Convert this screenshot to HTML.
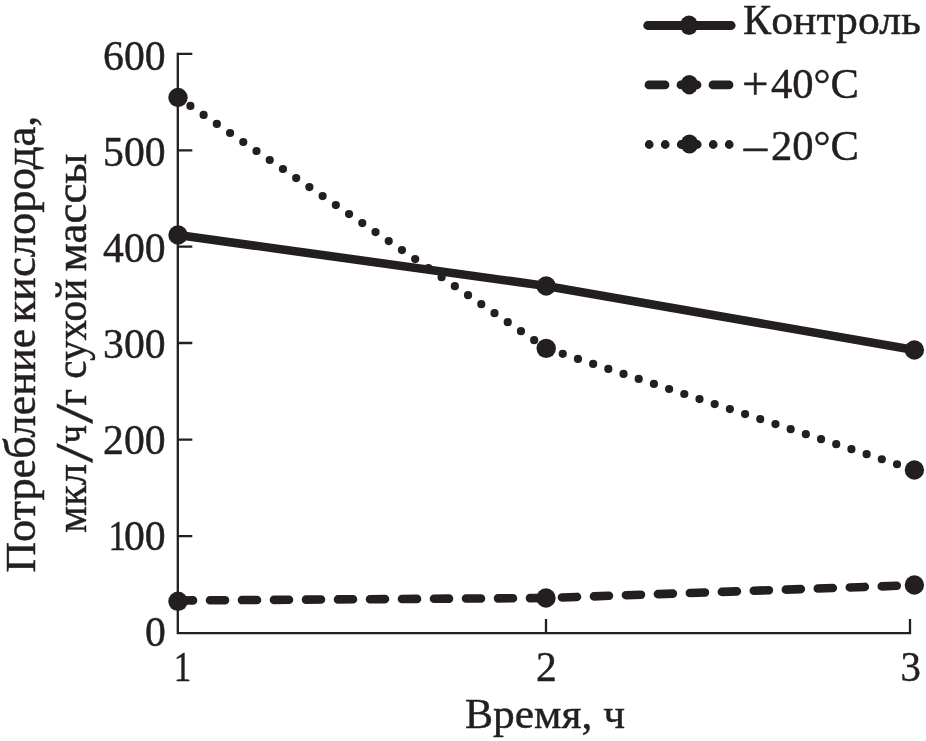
<!DOCTYPE html>
<html lang="ru">
<head>
<meta charset="utf-8">
<title>Потребление кислорода</title>
<style>
  html, body { margin: 0; padding: 0; background: #ffffff; }
  body { width: 926px; height: 741px; overflow: hidden; }
  svg { display: block; }
  text { font-family: "Liberation Serif", "Times New Roman", serif; fill: #231f20; stroke: #231f20; stroke-width: 0.45px; }
</style>
</head>
<body>
<svg width="926" height="741" viewBox="0 0 926 741">
  <rect width="926" height="741" fill="#ffffff"/>

  <!-- axes -->
  <g stroke="#231f20" stroke-width="2.3" fill="none" stroke-linecap="butt">
    <path d="M177.8 52.65 V633.1 H911.1"/>
    <path d="M177.8 53.8 H192.3 M177.8 150.4 H192.3 M177.8 246.6 H192.3 M177.8 343 H192.3 M177.8 439.6 H192.3 M177.8 536.2 H192.3"/>
    <path d="M546 633.1 V619 M910 633.1 V619"/>
  </g>

  <!-- y tick labels -->
  <g font-size="43" text-anchor="end">
    <text x="165.6" y="70.3" textLength="62.5" lengthAdjust="spacingAndGlyphs">600</text>
    <text x="165.6" y="166.3" textLength="62.5" lengthAdjust="spacingAndGlyphs">500</text>
    <text x="165.6" y="262.3" textLength="62.5" lengthAdjust="spacingAndGlyphs">400</text>
    <text x="165.6" y="358.3" textLength="62.5" lengthAdjust="spacingAndGlyphs">300</text>
    <text x="165.6" y="454.3" textLength="62.5" lengthAdjust="spacingAndGlyphs">200</text>
    <text x="108.4" y="550.3" text-anchor="start" textLength="17.5" lengthAdjust="spacingAndGlyphs">1</text>
    <text x="165.6" y="550.3" textLength="41.7" lengthAdjust="spacingAndGlyphs">00</text>
    <text x="165.8" y="646" textLength="20.8" lengthAdjust="spacingAndGlyphs">0</text>
  </g>

  <!-- x tick labels -->
  <g font-size="43" text-anchor="middle">
    <text x="182.4" y="681" textLength="17.5" lengthAdjust="spacingAndGlyphs">1</text>
    <text x="546.3" y="680.6" textLength="20.8" lengthAdjust="spacingAndGlyphs">2</text>
    <text x="910.6" y="681" textLength="20.4" lengthAdjust="spacingAndGlyphs">3</text>
  </g>

  <!-- axis titles -->
  <text x="465" y="728" font-size="43" textLength="160" lengthAdjust="spacingAndGlyphs"><tspan font-size="41.6">В</tspan>ремя, ч</text>
  <g transform="translate(35.2,572.6) rotate(-90)" font-size="44">
    <text x="0" y="0" textLength="244" lengthAdjust="spacingAndGlyphs"><tspan font-size="42">П</tspan>отребление</text>
    <text x="250" y="0" textLength="207" lengthAdjust="spacingAndGlyphs">кислорода,</text>
  </g>
  <g transform="translate(85.8,533) rotate(-90)" font-size="44">
    <text x="0" y="0" textLength="69" lengthAdjust="spacingAndGlyphs">мкл</text>
    <text x="70.6" y="6.5" font-size="52" stroke="none" textLength="19" lengthAdjust="spacingAndGlyphs">/</text>
    <text x="89.5" y="0" textLength="18.5" lengthAdjust="spacingAndGlyphs">ч</text>
    <text x="109.4" y="6.5" font-size="52" stroke="none" textLength="19.5" lengthAdjust="spacingAndGlyphs">/</text>
    <text x="127.5" y="0" textLength="16.5" lengthAdjust="spacingAndGlyphs">г</text>
    <text x="154.2" y="0" textLength="100" lengthAdjust="spacingAndGlyphs">сухой</text>
    <text x="261.5" y="0" textLength="118" lengthAdjust="spacingAndGlyphs">массы</text>
  </g>

  <!-- series -->
  <g stroke="#231f20" fill="none">
    <polyline points="178,235 546.2,286 914.4,350" stroke-width="8.6" stroke-linejoin="round"/>
    <polyline points="178,600.5 546,598 914.4,585.2" stroke-width="8.6" stroke-dasharray="15 17" stroke-linecap="round"/>
    <polyline points="178,97.5 546.2,348.4 914.4,470" stroke-width="8.2" stroke-dasharray="0 16" stroke-dashoffset="1" stroke-linecap="round"/>
  </g>
  <g fill="#231f20">
    <circle cx="178" cy="235" r="9.7"/><circle cx="546.2" cy="286" r="9.7"/><circle cx="914.4" cy="350" r="9.7"/>
    <circle cx="178" cy="601.3" r="9.7"/><circle cx="546" cy="598" r="9.7"/><circle cx="914.4" cy="585" r="9.7"/>
    <circle cx="178" cy="97.5" r="9.7"/><circle cx="546.2" cy="348.4" r="9.7"/><circle cx="914.4" cy="470" r="9.7"/>
  </g>

  <!-- legend -->
  <g stroke="#231f20" stroke-width="8.8" stroke-linecap="round" fill="none">
    <path d="M647.7 25.5 H731.2"/>
    <path d="M649 84.9 H731" stroke-dasharray="16 16"/>
    <path d="M649.2 144.5 H731" stroke-dasharray="0 16"/>
  </g>
  <g fill="#231f20">
    <ellipse cx="689" cy="25.3" rx="8.8" ry="9.8"/>
    <ellipse cx="689.3" cy="84.7" rx="8.8" ry="9.7"/>
    <ellipse cx="689.5" cy="144" rx="8.8" ry="9.6"/>
  </g>
  <g font-size="43">
    <text x="743" y="34.4" textLength="178" lengthAdjust="spacingAndGlyphs"><tspan font-size="41.6">К</tspan>онтроль</text>
    <text y="97.6"><tspan x="742" font-size="47" dy="1.2">+</tspan><tspan x="771" dy="-1.2" textLength="88" lengthAdjust="spacingAndGlyphs">40°C</tspan></text>
    <text x="741" y="163.6" textLength="29" lengthAdjust="spacingAndGlyphs">−</text>
    <text x="771" y="160" textLength="88" lengthAdjust="spacingAndGlyphs">20°C</text>
  </g>
</svg>
</body>
</html>
